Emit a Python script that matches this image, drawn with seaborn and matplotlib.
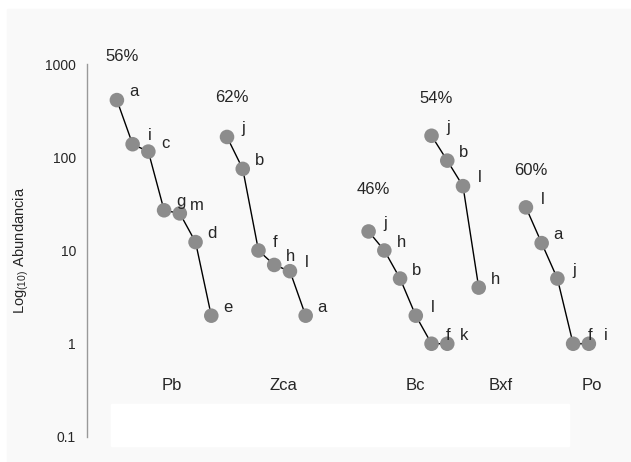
import matplotlib
matplotlib.use('Agg')
import pandas as pd
import seaborn as sns
import matplotlib.pyplot as plt
from matplotlib.patches import Rectangle

sns.set_style('white')
plt.rcParams['font.family'] = ['Liberation Sans', 'DejaVu Sans']
plt.rcParams['mathtext.fontset'] = 'custom'
plt.rcParams['mathtext.rm'] = 'Liberation Sans'
plt.rcParams['font.size'] = 10

# datos
groups = ['Pb', 'Zca', 'Bc', 'Bxf', 'Po']
group_start = [0, 7, 16, 20, 26]
percent = ['56%', '62%', '46%', '54%', '60%']
percent_y = [1200, 440, 45, 430, 72]
species = [
    ['a', 'i', 'c', 'g', 'm', 'd', 'e'],
    ['j', 'b', 'f', 'h', 'l', 'a'],
    ['j', 'h', 'b', 'l', 'f', 'k'],
    ['j', 'b', 'l', 'h'],
    ['l', 'a', 'j', 'f', 'i'],
]
abund = [
    [410, 138, 115, 27, 25, 12.3, 2],
    [165, 75, 10, 7, 6, 2],
    [16, 10, 5, 2, 1, 1],
    [170, 92, 49, 4],
    [29, 12, 5, 1, 1],
]
label_x = [3.5, 10.6, 19.0, 24.4, 30.2]
label_y = 0.36

rows = []
for g, s0, sp, ab in zip(groups, group_start, species, abund):
    for k, (name, v) in enumerate(zip(sp, ab)):
        rows.append({'group': g, 'rank': s0 + k, 'sp': name, 'abund': v})
df = pd.DataFrame(rows)

fig = plt.figure(figsize=(6.31, 4.62), dpi=100)
fig.patches.append(Rectangle((7 / 631, 0), 1, 453 / 462, transform=fig.transFigure,
                             color='#f9f9f9', zorder=-10))
fig.patches.append(Rectangle((111 / 631, 16 / 462), 458 / 631, 42 / 462,
                             transform=fig.transFigure, color='white', zorder=-9))

ax = fig.add_axes([87 / 631, 25 / 462, 533 / 631, 373 / 462])
ax.set_facecolor('none')

sns.lineplot(data=df, x='rank', y='abund', units='group', estimator=None,
             color='black', lw=1, ax=ax, zorder=2)
sns.scatterplot(data=df, x='rank', y='abund', color='#8c8c8c', s=110,
                edgecolor='none', ax=ax, zorder=3)

ax.set_yscale('log')
ax.set_ylim(0.1, 1000)
ax.set_xlim(-1.9, 31.98)
ax.set_yticks([0.1, 1, 10, 100, 1000])
ax.set_yticklabels(['0.1', '1', '10', '100', '1000'])
ax.minorticks_off()
ax.tick_params(axis='y', length=0, pad=8, labelsize=10)
ax.set_xticks([])
ax.set_xlabel('')
ax.set_ylabel(r'$\mathregular{Log_{(10)}\ Abundancia}$', fontsize=10.5, labelpad=10)

for side in ['top', 'right', 'bottom']:
    ax.spines[side].set_visible(False)
ax.spines['left'].set_color('#999999')
ax.spines['left'].set_linewidth(1)

for _, r in df.iterrows():
    ax.annotate(r['sp'], (r['rank'], r['abund']), xytext=(12, 6),
                textcoords='offset points', ha='center', va='center', fontsize=12)

for s0, p, py in zip(group_start, percent, percent_y):
    ax.text(s0 + 0.3, py, p, ha='center', va='center', fontsize=12, clip_on=False)

for g, lx in zip(groups, label_x):
    ax.text(lx, label_y, g, ha='center', va='center', fontsize=12)

fig.savefig('out.png', dpi=100)
